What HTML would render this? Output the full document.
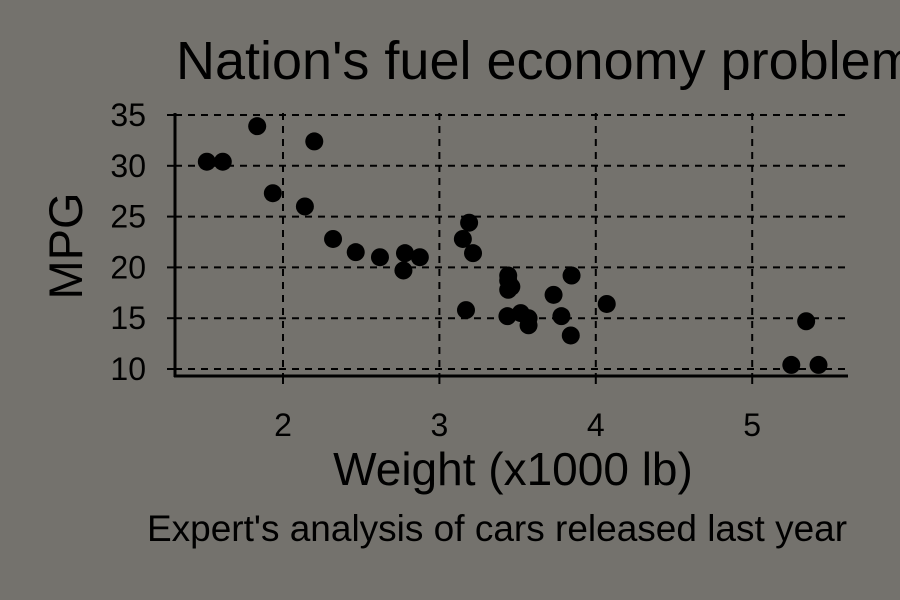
<!DOCTYPE html>
<html><head><meta charset="utf-8"><style>
html,body{margin:0;padding:0;background:#74726d;}
svg{display:block;font-family:"Liberation Sans",sans-serif;}
</style></head><body>
<svg width="900" height="600" viewBox="0 0 900 600">
<rect width="900" height="600" fill="#74726d"/>
<text x="176" y="79" font-size="54" fill="#000">Nation's fuel economy problem</text>
<g id="grid"></g>
<g id="axes"></g>
<g id="points"></g>
<text x="513" y="485" font-size="46" text-anchor="middle" fill="#000">Weight (x1000 lb)</text>
<text transform="translate(82,246) rotate(-90)" font-size="47" text-anchor="middle" fill="#000">MPG</text>
<text x="497" y="541" font-size="37" text-anchor="middle" fill="#000">Expert's analysis of cars released last year</text>
</svg>
<script>
const weights=[2.62,2.875,2.32,3.215,3.44,3.46,3.57,3.19,3.15,3.44,3.44,4.07,3.73,3.78,5.25,5.424,5.345,2.2,1.615,1.835,2.465,3.52,3.435,3.84,3.845,1.935,2.14,1.513,3.17,2.77,3.57,2.78];
const mpgs=[21.0,21.0,22.8,21.4,18.7,18.1,14.3,24.4,22.8,19.2,17.8,16.4,17.3,15.2,10.4,10.4,14.7,32.4,30.4,33.9,21.5,15.5,15.2,13.3,19.2,27.3,26.0,30.4,15.8,19.7,15.0,21.4];
const xTicks=[2,3,4,5];
const yTicks=[10,15,20,25,30,35];
const NS="http://www.w3.org/2000/svg";
function xs(v){return 283+(v-2)*156.4;}
function ys(v){return 369-(v-10)*10.16;}
const L=175,R=848,B=376;
function mk(t,a,p){const e=document.createElementNS(NS,t);for(const k in a)e.setAttribute(k,a[k]);document.getElementById(p).appendChild(e);return e;}
xTicks.forEach(v=>{
 const g=mk('line',{x1:xs(v),x2:xs(v),y1:113,y2:B,stroke:'#000','stroke-width':2,'stroke-dasharray':'7,6'},'grid');
 
 
 const t=mk('line',{x1:xs(v),x2:xs(v),y1:B,y2:B+8,stroke:'#000','stroke-width':2},'axes');
 
 
 const l=mk('text',{x:xs(v),y:436,'font-size':32,'text-anchor':'middle',fill:'#000'},'axes');l.textContent=v;
 
 
});
yTicks.forEach(v=>{
 const g=mk('line',{x1:L,x2:R,y1:ys(v),y2:ys(v),stroke:'#000','stroke-width':2,'stroke-dasharray':'7,6'},'grid');
 
 
 const t=mk('line',{x1:L-8,x2:L,y1:ys(v),y2:ys(v),stroke:'#000','stroke-width':2},'axes');
 
 
 const l=mk('text',{x:146,y:ys(v)+11,'font-size':32,'text-anchor':'end',fill:'#000'},'axes');l.textContent=v;
 
 
});
const ax=mk('line',{x1:L,x2:L,y1:113,y2:B+1,stroke:'#000','stroke-width':3},'axes');


const bx=mk('line',{x1:L-1,x2:R,y1:B,y2:B,stroke:'#000','stroke-width':3},'axes');


weights.forEach((w,i)=>{
 const c=mk('circle',{cx:xs(w),cy:ys(mpgs[i]),r:9,fill:'#000'},'points');
 
 
});
</script>
</body></html>
